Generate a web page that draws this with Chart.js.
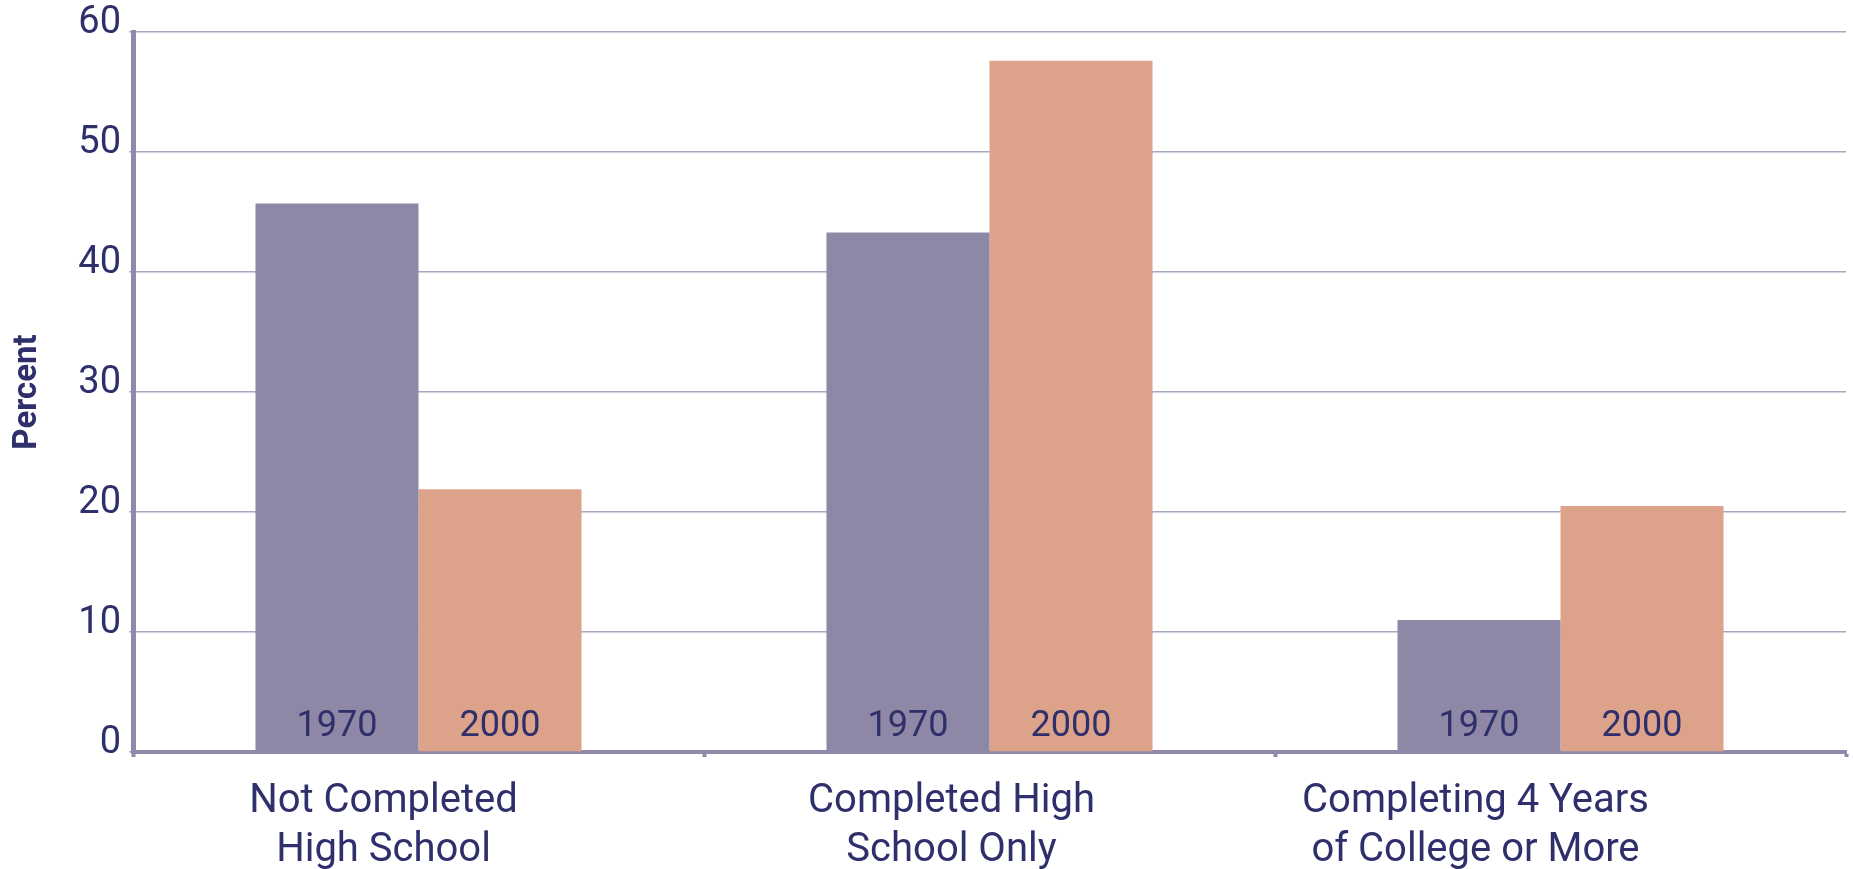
<!DOCTYPE html>
<html lang="en">
<head>
<meta charset="utf-8">
<title>Percent</title>
<script src="https://cdn.jsdelivr.net/npm/chart.js@4.4.1/dist/chart.umd.min.js"></script>
<style>
    html, body { margin: 0; padding: 0; background: #ffffff; }
    .contenedor-grafico { position: relative; width: 1853px; height: 869px; }
</style>
</head>
<body>
<div class="contenedor-grafico">
    <canvas id="educacionChart"></canvas>
</div>
<script>
// Datos del gráfico
const categorias = [
    ['Not Completed', 'High School'],
    ['Completed High', 'School Only'],
    ['Completing 4 Years', 'of College or More']
];
const anios = ['1970', '2000'];
const valores1970 = [45.7, 43.3, 11.0];
const valores2000 = [21.9, 57.6, 20.5];
const ejeY = { min: 0, max: 60, paso: 10 };

const colorTexto = '#2E2F6B';
const colorEje = '#9089AB';
const colorRejilla = '#ABA5C4';

// Corrimiento horizontal (px) de cada etiqueta de categoría
const corrimientoEtiquetas = [-35, -38, -85];

document.addEventListener('DOMContentLoaded', function() {
    // Escribe el año dentro de cada barra, pegado a la base
    const etiquetasAnio = {
        id: 'etiquetasAnio',
        afterDatasetsDraw(chart) {
            const ctx = chart.ctx;
            const base = chart.scales.y.getPixelForValue(0);
            ctx.save();
            ctx.font = '36px Roboto, sans-serif';
            ctx.fillStyle = colorTexto;
            ctx.textAlign = 'center';
            ctx.textBaseline = 'alphabetic';
            chart.data.datasets.forEach((ds, i) => {
                chart.getDatasetMeta(i).data.forEach(barra => {
                    ctx.fillText(ds.label, barra.x, base - 16);
                });
            });
            ctx.restore();
        }
    };

    // Mueve las etiquetas del eje x un poco a la izquierda
    const moverEtiquetasX = {
        id: 'moverEtiquetasX',
        beforeDraw(chart) {
            const escala = chart.scales.x;
            const items = escala.getLabelItems(chart.chartArea);
            if (items._movidas) return;
            items.forEach((item, i) => {
                item.options.translation[0] += corrimientoEtiquetas[i] || 0;
            });
            items._movidas = true;
        }
    };

    const ctx = document.getElementById('educacionChart');
    new Chart(ctx.getContext('2d'), {
        type: 'bar',
        data: {
            labels: categorias,
            datasets: [{
                label: anios[0],
                data: valores1970,
                backgroundColor: '#8F87A6',
                borderWidth: 0,
                categoryPercentage: 0.571,
                barPercentage: 1.0
            }, {
                label: anios[1],
                data: valores2000,
                backgroundColor: '#DDA28A',
                borderWidth: 0,
                categoryPercentage: 0.571,
                barPercentage: 1.0
            }]
        },
        options: {
            responsive: true,
            maintainAspectRatio: false,
            animation: false,
            layout: {
                padding: { top: 32, right: 7, bottom: 0, left: 0 }
            },
            scales: {
                x: {
                    afterFit: (scale) => { scale.height = 117; },
                    grid: {
                        drawOnChartArea: false,
                        drawTicks: true,
                        tickLength: 5,
                        tickWidth: 4,
                        color: colorEje
                    },
                    border: { display: true, color: colorEje, width: 4 },
                    ticks: {
                        color: colorTexto,
                        padding: 21,
                        maxRotation: 0,
                        autoSkip: false,
                        font: { family: 'Roboto', size: 40, lineHeight: 1.22 }
                    }
                },
                y: {
                    min: ejeY.min,
                    max: ejeY.max,
                    // ancho fijo del eje y sin relleno extra arriba/abajo
                    afterFit: (scale) => {
                        scale.width = 133;
                        scale.paddingTop = 0;
                        scale.paddingBottom = 0;
                    },
                    grid: {
                        color: colorRejilla,
                        lineWidth: 1.5,
                        drawTicks: true,
                        tickLength: 4
                    },
                    border: { display: true, color: colorEje, width: 5 },
                    ticks: {
                        stepSize: ejeY.paso,
                        color: colorTexto,
                        padding: 8,
                        labelOffset: -9,
                        font: { family: 'Roboto', size: 38 }
                    },
                    title: {
                        display: true,
                        text: 'Percent',
                        color: colorTexto,
                        padding: { top: 8, bottom: 0 },
                        font: { family: 'Roboto', size: 33, weight: 'bold' }
                    }
                }
            },
            plugins: {
                legend: { display: false },
                title: { display: false },
                tooltip: { enabled: false }
            }
        },
        plugins: [etiquetasAnio, moverEtiquetasX]
    });
});
</script>
</body>
</html>
